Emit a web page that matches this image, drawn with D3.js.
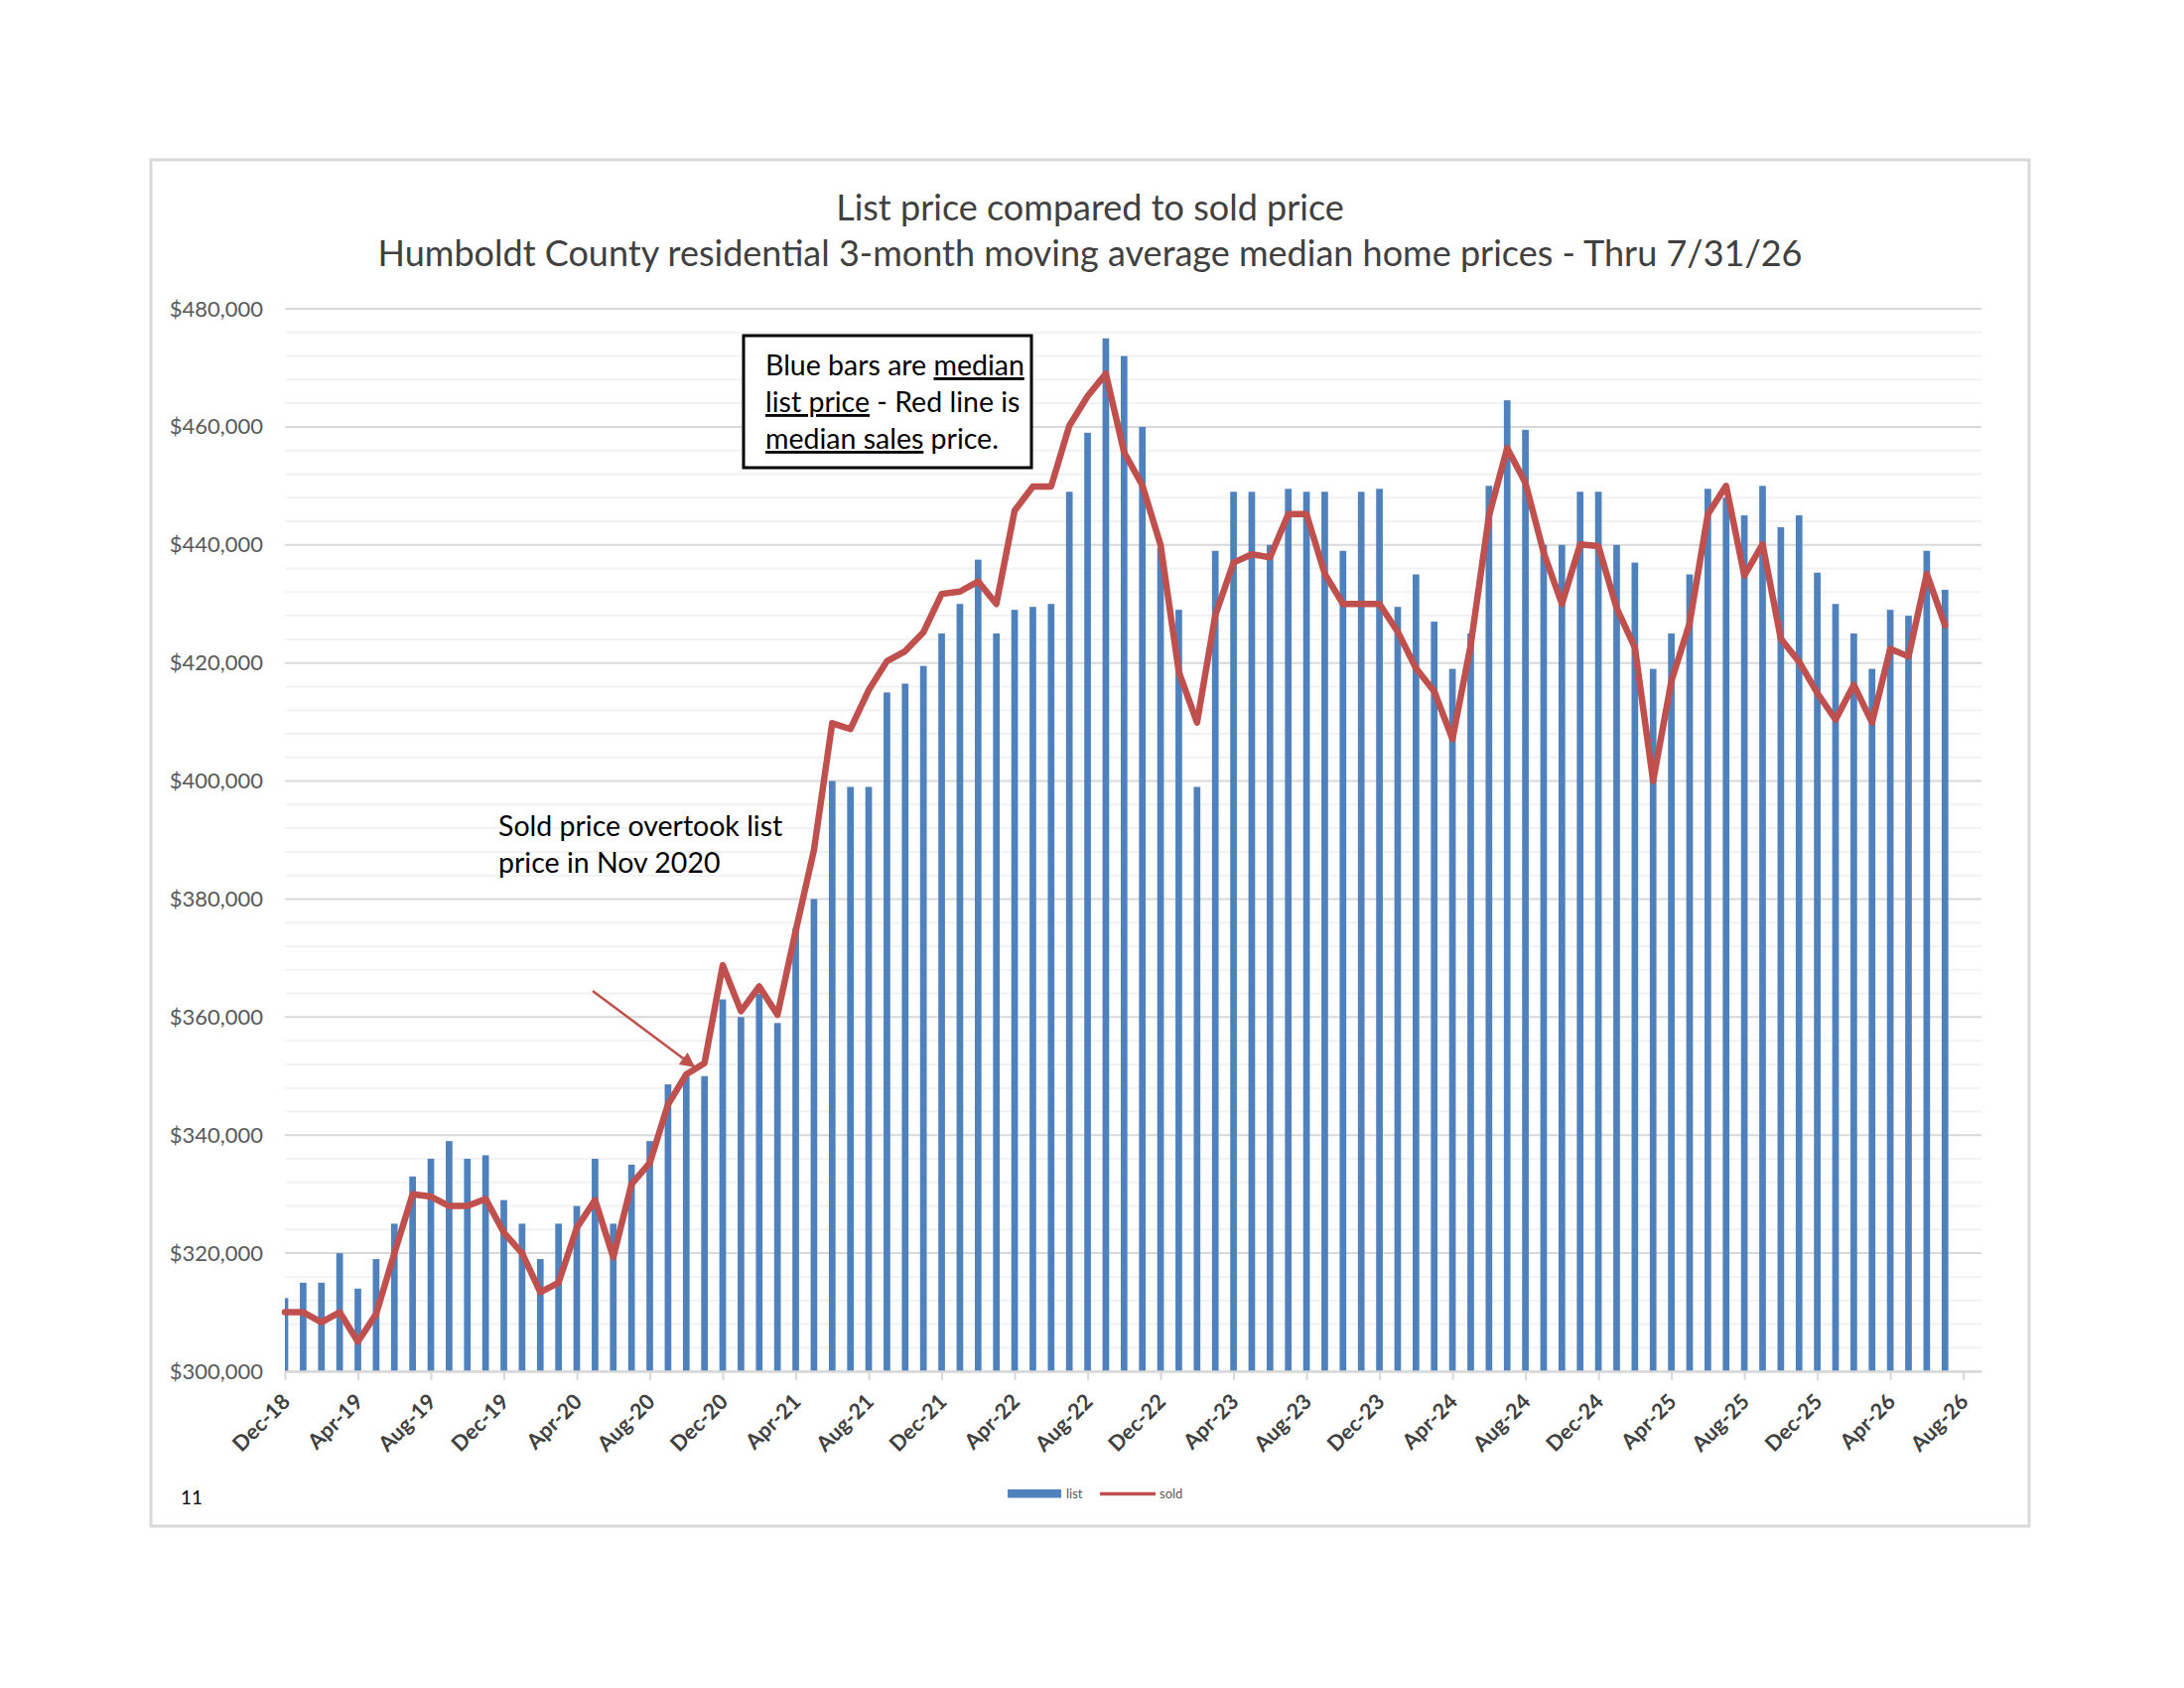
<!DOCTYPE html>
<html>
<head>
<meta charset="utf-8">
<title>List price compared to sold price</title>
<script src="https://cdn.jsdelivr.net/npm/d3@7"></script>
<style>
	body { margin: 0; background: #fff; }
	svg { display: block; font-family: Lato, "Open Sans", sans-serif; }
</style>
</head>
<body>
<div id="chart"></div>
<script>

// data, Dec-18 .. Jul-26
const months = [
	"Dec-18",
	"Jan-19","Feb-19","Mar-19","Apr-19","May-19","Jun-19","Jul-19","Aug-19","Sep-19","Oct-19","Nov-19","Dec-19",
	"Jan-20","Feb-20","Mar-20","Apr-20","May-20","Jun-20","Jul-20","Aug-20","Sep-20","Oct-20","Nov-20","Dec-20",
	"Jan-21","Feb-21","Mar-21","Apr-21","May-21","Jun-21","Jul-21","Aug-21","Sep-21","Oct-21","Nov-21","Dec-21",
	"Jan-22","Feb-22","Mar-22","Apr-22","May-22","Jun-22","Jul-22","Aug-22","Sep-22","Oct-22","Nov-22","Dec-22",
	"Jan-23","Feb-23","Mar-23","Apr-23","May-23","Jun-23","Jul-23","Aug-23","Sep-23","Oct-23","Nov-23","Dec-23",
	"Jan-24","Feb-24","Mar-24","Apr-24","May-24","Jun-24","Jul-24","Aug-24","Sep-24","Oct-24","Nov-24","Dec-24",
	"Jan-25","Feb-25","Mar-25","Apr-25","May-25","Jun-25","Jul-25","Aug-25","Sep-25","Oct-25","Nov-25","Dec-25",
	"Jan-26","Feb-26","Mar-26","Apr-26","May-26","Jun-26","Jul-26"
];

const listPrice = [
	312400,
	315000, 315000, 320000, 314000, 319000, 325000, 333000, 336000, 339000, 336000, 336600, 329000,
	325000, 319000, 325000, 328000, 336000, 325000, 335000, 339000, 348600, 350000, 350000, 363000,
	360000, 364000, 359000, 375000, 380000, 400000, 399000, 399000, 415000, 416500, 419500, 425000,
	430000, 437500, 425000, 429000, 429500, 430000, 449000, 459000, 475000, 472000, 460000, 439500,
	429000, 399000, 439000, 449000, 449000, 440000, 449500, 449000, 449000, 439000, 449000, 449500,
	429500, 435000, 427000, 419000, 425000, 450000, 464500, 459500, 440000, 440000, 449000, 449000,
	440000, 437000, 419000, 425000, 435000, 449500, 448000, 445000, 450000, 443000, 445000, 435300,
	430000, 425000, 419000, 429000, 428000, 439000, 432400
];

const soldPrice = [
	310000,
	310000, 308300, 310000, 305000, 309700, 320000, 330000, 329600, 328000, 328000, 329200, 323500,
	320000, 313400, 315000, 324300, 329000, 319300, 331700, 335300, 345200, 350300, 352200, 368800,
	361000, 365200, 360400, 374600, 388300, 409800, 408800, 415400, 420300, 422000, 425200, 431700,
	432100, 433800, 430000, 445800, 449900, 449900, 460200, 465200, 469000, 455700, 450100, 440000,
	418500, 409900, 428100, 437000, 438400, 437900, 445200, 445200, 435100, 430000, 430000, 430000,
	425300, 419100, 415200, 407100, 423000, 444900, 456400, 450500, 438700, 430000, 440100, 439800,
	429300, 422600, 400000, 416900, 426700, 445200, 450000, 434800, 440100, 424100, 420200, 414900,
	410400, 416300, 409900, 422400, 421100, 435100, 426400
];

const tickLabels = [
	"Dec-18","Apr-19","Aug-19","Dec-19","Apr-20","Aug-20","Dec-20","Apr-21","Aug-21","Dec-21","Apr-22","Aug-22",
	"Dec-22","Apr-23","Aug-23","Dec-23","Apr-24","Aug-24","Dec-24","Apr-25","Aug-25","Dec-25","Apr-26","Aug-26"
];

const titleLines = [
	"List price compared to sold price",
	"Humboldt County residential 3-month moving average median home prices - Thru 7/31/26"
];

// layout
const width  = 2200;
const height = 1700;
const plotLeft = 287, plotRight = 1996, plotTop = 311, plotBottom = 1381;
const barColor  = "#4F81BD";
const lineColor = "#C0504D";
const barWidth  = 6.7;

const svg = d3.select("#chart").append("svg")
	.attr("width", width)
	.attr("height", height)
	.attr("viewBox", [0, 0, width, height]);

svg.append("rect").attr("width", width).attr("height", height).attr("fill", "#fff");

// chart frame
svg.append("rect")
	.attr("x", 152).attr("y", 161)
	.attr("width", 1892).attr("height", 1376)
	.attr("fill", "none")
	.attr("stroke", "#D9D9D9")
	.attr("stroke-width", 3);

const x = d3.scaleLinear().domain([0, months.length + 1]).range([plotLeft, plotRight]);
const y = d3.scaleLinear().domain([300000, 480000]).range([plotBottom, plotTop]);

// gridlines
const minorTicks = d3.range(300000, 480001, 4000).filter(v => v % 20000 !== 0);
const majorTicks = d3.range(300000, 480001, 20000);

svg.append("g")
	.selectAll("line")
	.data(minorTicks)
	.join("line")
	.attr("x1", plotLeft).attr("x2", plotRight)
	.attr("y1", d => y(d)).attr("y2", d => y(d))
	.attr("stroke", "#F2F2F2")
	.attr("stroke-width", 2);

svg.append("g")
	.selectAll("line")
	.data(majorTicks)
	.join("line")
	.attr("x1", plotLeft).attr("x2", plotRight)
	.attr("y1", d => y(d)).attr("y2", d => y(d))
	.attr("stroke", "#D9D9D9")
	.attr("stroke-width", 2);

// y axis labels
svg.append("g")
	.attr("transform", `translate(${plotLeft},0)`)
	.call(d3.axisLeft(y).tickValues(majorTicks).tickFormat(d3.format("$,")).tickSize(0).tickPadding(22))
	.call(g => g.select(".domain").remove())
	.call(g => g.selectAll("text")
		.attr("font-family", "Lato, 'Open Sans', sans-serif")
		.attr("font-size", 22)
		.attr("fill", "#595959"));

// bars
svg.append("clipPath").attr("id", "plot-clip")
	.append("rect")
	.attr("x", plotLeft).attr("y", plotTop - 20)
	.attr("width", plotRight - plotLeft).attr("height", plotBottom - plotTop + 20);

svg.append("g")
	.attr("clip-path", "url(#plot-clip)")
	.selectAll("rect")
	.data(listPrice)
	.join("rect")
	.attr("x", (d, i) => x(i) - barWidth / 2)
	.attr("y", d => y(d))
	.attr("width", barWidth)
	.attr("height", d => y(300000) - y(d))
	.attr("fill", barColor);

// x axis
svg.append("g")
	.attr("transform", `translate(0,${plotBottom})`)
	.call(d3.axisBottom(x)
		.tickValues(d3.range(0, months.length + 1, 4))
		.tickFormat((d, i) => tickLabels[i])
		.tickSize(9)
		.tickSizeOuter(0))
	.call(g => g.select(".domain").attr("stroke", "#D9D9D9").attr("stroke-width", 2.5))
	.call(g => g.selectAll(".tick line").attr("stroke", "#D9D9D9").attr("stroke-width", 2))
	.call(g => g.selectAll("text")
		.attr("x", 0).attr("y", 0).attr("dy", 0)
		.attr("transform", "translate(6,32) rotate(-45)")
		.attr("text-anchor", "end")
		.attr("font-family", "Lato, 'Open Sans', sans-serif")
		.attr("font-size", 21.5)
		.attr("font-weight", "bold")
		.attr("fill", "#404040"));

// sold line
const line = d3.line()
	.x((d, i) => x(i))
	.y(d => y(d));

svg.append("path")
	.attr("fill", "none")
	.attr("stroke", lineColor)
	.attr("stroke-width", 6.5)
	.attr("stroke-linejoin", "round")
	.attr("stroke-linecap", "round")
	.attr("d", line(soldPrice));

// title
svg.append("g")
	.selectAll("text")
	.data(titleLines)
	.join("text")
	.attr("x", 1098)
	.attr("y", (d, i) => 222 + i * 46)
	.attr("text-anchor", "middle")
	.attr("font-size", 36)
	.attr("fill", "#404040")
	.text(d => d);

// annotation box
svg.append("rect")
	.attr("x", 749).attr("y", 338)
	.attr("width", 290).attr("height", 133)
	.attr("fill", "#fff")
	.attr("stroke", "#000")
	.attr("stroke-width", 3);

const note = svg.append("text")
	.attr("font-size", 28.5)
	.attr("fill", "#000");

const noteLines = [
	[["Blue bars are ", false], ["median", true]],
	[["list price", true], [" - Red line is", false]],
	[["median sales", true], [" price.", false]]
];
noteLines.forEach((parts, i) => {
	parts.forEach(([t, u], j) => {
		const ts = note.append("tspan").text(t).style("white-space", "pre");
		if (j === 0) ts.attr("x", 771).attr("y", 378 + i * 37);
		if (u) ts.attr("text-decoration", "underline");
	});
});

// "sold price overtook" callout
svg.append("g")
	.selectAll("text")
	.data(["Sold price overtook list", "price in Nov 2020"])
	.join("text")
	.attr("x", 502)
	.attr("y", (d, i) => 842 + i * 37)
	.attr("font-size", 28.5)
	.attr("fill", "#000")
	.text(d => d);

svg.append("defs").append("marker")
	.attr("id", "arrow")
	.attr("viewBox", "0 0 10 10")
	.attr("refX", 9).attr("refY", 5)
	.attr("markerWidth", 6).attr("markerHeight", 6)
	.attr("orient", "auto")
	.append("path")
	.attr("d", "M0,0 L10,5 L0,10 Z")
	.attr("fill", lineColor);

svg.append("line")
	.attr("x1", 597).attr("y1", 998)
	.attr("x2", 699).attr("y2", 1074)
	.attr("stroke", lineColor)
	.attr("stroke-width", 2.5)
	.attr("marker-end", "url(#arrow)");

// legend
const legend = svg.append("g").attr("font-size", 13).attr("fill", "#595959");
legend.append("rect").attr("x", 1015).attr("y", 1500).attr("width", 54).attr("height", 8.5).attr("fill", barColor);
legend.append("text").attr("x", 1074).attr("y", 1509).text("list");
legend.append("line").attr("x1", 1108).attr("x2", 1164).attr("y1", 1504.5).attr("y2", 1504.5)
	.attr("stroke", lineColor).attr("stroke-width", 3.5);
legend.append("text").attr("x", 1168).attr("y", 1509).text("sold");

// page number
svg.append("text")
	.attr("x", 182).attr("y", 1515)
	.attr("font-size", 19)
	.attr("fill", "#000")
	.text("11");

</script>
</body>
</html>
